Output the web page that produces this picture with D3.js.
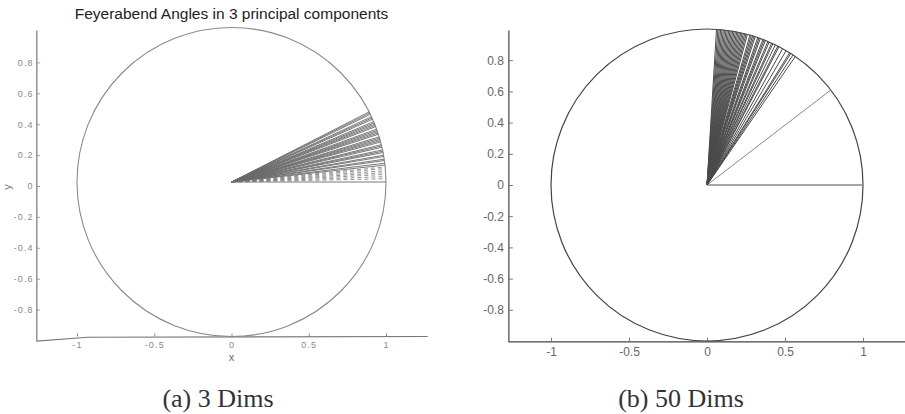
<!DOCTYPE html>
<html>
<head>
<meta charset="utf-8">
<script src="https://cdn.jsdelivr.net/npm/d3@7"></script>
<style>
  body { margin: 0; background: #fff; }
  svg { display: block; }
</style>
</head>
<body>
<div id="chart"></div>
<script>
// Tick values shared by both panels
const xTicks = [-1, -0.5, 0, 0.5, 1];
const yTicks = [-0.8, -0.6, -0.4, -0.2, 0, 0.2, 0.4, 0.6, 0.8];

// Panel (a): angles of the vectors in degrees
const anglesA = [0, 6.3, 7, 8, 8.5, 9.5, 10, 11, 11.5, 12, 13, 13.5, 14, 15, 15.5,
  16, 16.5, 17, 18, 18.5, 19, 19.5, 20, 21, 21.5, 22, 22.5, 23, 24, 24.5, 25, 26, 26.5, 27];
const dashedA = [1.2, 2, 2.8, 3.5, 4.2, 5, 5.6];

// Panel (b): angles of the vectors in degrees
const anglesB = [0, 37.5, 55.5, 56.5, 57.5, 58, 59.5, 61, 62.5, 63, 64, 65, 65.5, 66.5,
  67, 68, 68.5, 69, 70, 70.5, 71, 72, 72.5, 73, 73.5, 74, 75, 75.5, 76, 76.5, 77, 77.5,
  78, 78.5, 79, 79.5, 80, 80.5, 81, 81.5, 82, 82.5, 83, 83.5, 84, 84.5, 85, 85.5, 86, 86.5];

const captions = ['(a) 3 Dims', '(b) 50 Dims'];
const titleA = 'Feyerabend Angles in 3 principal components';

const width = 905;
const height = 414;

let svg = d3.select('#chart')
  .append('svg')
  .attr('width', width)
  .attr('height', height);

const rad = (d) => d * Math.PI / 180;

// ---------- Panel (a) ----------
let xA = d3.scaleLinear().domain([-1, 1]).range([77, 386]);
let yA = d3.scaleLinear().domain([-1, 1]).range([336.5, 27.5]);
let gA = svg.append('g');

// Title
gA.append('text')
  .attr('x', xA(0))
  .attr('y', 19)
  .attr('text-anchor', 'middle')
  .style('font', '15.5px "Liberation Sans", Arial, sans-serif')
  .style('fill', '#222')
  .text(titleA);

// Axis lines (slightly kinked at the corner like the scan)
gA.append('path')
  .attr('d', d3.line()([
    [xA(-1.26), yA(0.98)],
    [xA(-1.26), yA(-1.03)],
    [xA(-0.93), yA(-1.005)],
    [xA(1.27), yA(-1)]
  ]))
  .attr('fill', 'none')
  .attr('stroke', '#777')
  .attr('stroke-width', 1.2);

// Y axis ticks/labels
let yAxisA = gA.append('g')
  .attr('transform', 'translate(' + xA(-1.26) + ',4)')
  .call(d3.axisLeft(yA).tickValues(yTicks).tickSize(-3).tickPadding(3)
    .tickFormat((d) => String(d)));
yAxisA.select('.domain').remove();
yAxisA.selectAll('line').attr('stroke', '#999');
yAxisA.selectAll('text')
  .style('font', '9px "Liberation Sans", Arial, sans-serif')
  .style('letter-spacing', '1.2px')
  .style('fill', '#888');

// X axis ticks/labels
let xAxisA = gA.append('g')
  .attr('transform', 'translate(0,' + yA(-1) + ')')
  .call(d3.axisBottom(xA).tickValues(xTicks).tickSize(-3).tickPadding(5)
    .tickFormat((d) => String(d)));
xAxisA.select('.domain').remove();
xAxisA.selectAll('line').attr('stroke', '#888');
xAxisA.selectAll('text')
  .style('font', '9px "Liberation Sans", Arial, sans-serif')
  .style('letter-spacing', '1.2px')
  .style('fill', '#888');

// Axis titles
gA.append('text')
  .attr('x', xA(0))
  .attr('y', 361)
  .attr('text-anchor', 'middle')
  .style('font', '11px "Liberation Sans", Arial, sans-serif')
  .style('fill', '#666')
  .text('x');
gA.append('text')
  .attr('transform', 'translate(11,' + (yA(0) + 5) + ') rotate(-90)')
  .attr('text-anchor', 'middle')
  .style('font', '11px "Liberation Sans", Arial, sans-serif')
  .style('fill', '#777')
  .text('y');

// Unit circle
gA.append('ellipse')
  .attr('cx', xA(0))
  .attr('cy', yA(0))
  .attr('rx', xA(1) - xA(0))
  .attr('ry', yA(0) - yA(1))
  .attr('fill', 'none')
  .attr('stroke', '#8a8a8a')
  .attr('stroke-width', 1.1);

// Vectors
gA.selectAll('line.vec')
  .data(anglesA)
  .enter()
  .append('line')
  .attr('class', 'vec')
  .attr('x1', xA(0))
  .attr('y1', yA(0))
  .attr('x2', (d) => xA(Math.cos(rad(d))))
  .attr('y2', (d) => yA(Math.sin(rad(d))))
  .attr('stroke', '#6a6a6a')
  .attr('stroke-width', 0.9);

gA.selectAll('line.dash')
  .data(dashedA)
  .enter()
  .append('line')
  .attr('class', 'dash')
  .attr('x1', xA(0))
  .attr('y1', yA(0))
  .attr('x2', (d) => xA(Math.cos(rad(d))))
  .attr('y2', (d) => yA(Math.sin(rad(d))))
  .attr('stroke', '#777')
  .attr('stroke-width', 0.8)
  .attr('stroke-dasharray', '4,3');

// ---------- Panel (b) ----------
let xB = d3.scaleLinear().domain([-1, 1]).range([551, 863]);
let yB = d3.scaleLinear().domain([-1, 1]).range([341, 29]);
let gB = svg.append('g');

gB.append('path')
  .attr('d', d3.line()([
    [xB(-1.27), yB(0.99)],
    [xB(-1.27), yB(-1.005)],
    [xB(1.27), yB(-1.005)]
  ]))
  .attr('fill', 'none')
  .attr('stroke', '#444')
  .attr('stroke-width', 1.2);

let yAxisB = gB.append('g')
  .attr('transform', 'translate(' + xB(-1.27) + ',0)')
  .call(d3.axisLeft(yB).tickValues(yTicks).tickSize(-4).tickPadding(5)
    .tickFormat((d) => String(d)));
yAxisB.select('.domain').remove();
yAxisB.selectAll('line').attr('stroke', '#777');
yAxisB.selectAll('text')
  .style('font', '12px "Liberation Sans", Arial, sans-serif')
  .style('fill', '#666');

let xAxisB = gB.append('g')
  .attr('transform', 'translate(0,' + yB(-1.005) + ')')
  .call(d3.axisBottom(xB).tickValues(xTicks).tickSize(-4).tickPadding(6)
    .tickFormat((d) => String(d)));
xAxisB.select('.domain').remove();
xAxisB.selectAll('line').attr('stroke', '#777');
xAxisB.selectAll('text')
  .style('font', '12px "Liberation Sans", Arial, sans-serif')
  .style('fill', '#666');

gB.append('ellipse')
  .attr('cx', xB(0))
  .attr('cy', yB(0))
  .attr('rx', xB(1) - xB(0))
  .attr('ry', yB(0) - yB(1))
  .attr('fill', 'none')
  .attr('stroke', '#444')
  .attr('stroke-width', 1.2);

gB.selectAll('line.vec')
  .data(anglesB)
  .enter()
  .append('line')
  .attr('class', 'vec')
  .attr('x1', xB(0))
  .attr('y1', yB(0))
  .attr('x2', (d) => xB(Math.cos(rad(d))))
  .attr('y2', (d) => yB(Math.sin(rad(d))))
  .attr('stroke', (d, i) => i < 2 ? '#888' : '#4a4a4a')
  .attr('stroke-width', (d, i) => i === 0 ? 1.4 : 1);

// ---------- Captions ----------
svg.selectAll('text.caption')
  .data(captions)
  .enter()
  .append('text')
  .attr('class', 'caption')
  .attr('x', (d, i) => i === 0 ? 218 : 681)
  .attr('y', 407)
  .attr('text-anchor', 'middle')
  .style('font', '26px "Liberation Serif", "Times New Roman", serif')
  .style('fill', '#333')
  .text((d) => d);
</script>
</body>
</html>
